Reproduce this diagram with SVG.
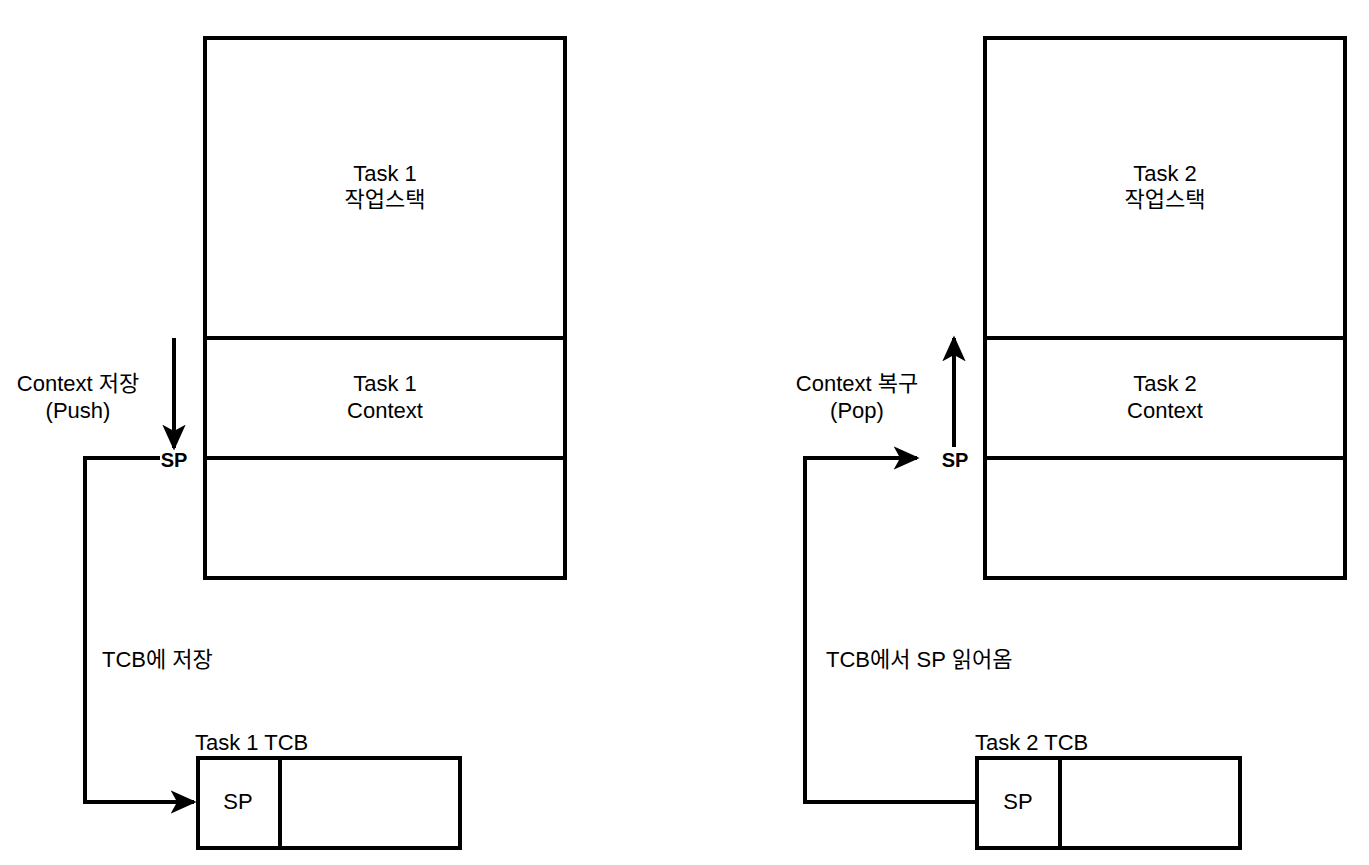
<svg xmlns="http://www.w3.org/2000/svg" width="1369" height="865" viewBox="0 0 1369 865">
<style>
.box{fill:#fff;stroke:#000;stroke-width:4}
.ln{fill:none;stroke:#000;stroke-width:4}
.t{font-family:"Liberation Sans","Noto Sans CJK KR",sans-serif;font-size:22px;fill:#000}
.c{text-anchor:middle}
.b{font-weight:bold;font-size:20px}
</style>
<defs>
<marker id="ah" viewBox="0 0 20 20" refX="18" refY="10" markerWidth="6.5" markerHeight="6.5" markerUnits="strokeWidth" orient="auto">
<path d="M0,1 L20,10 L0,19 L5,10 Z" fill="#000"/>
</marker>
</defs>
<g id="connectors">
<path class="ln" d="M160,458 H85 V802 H194" marker-end="url(#ah)"/>
<path class="ln" d="M174,338 V448" marker-end="url(#ah)"/>
<path class="ln" d="M977,802 H805 V458 H917" marker-end="url(#ah)"/>
<path class="ln" d="M954,447 V338" marker-end="url(#ah)"/>
</g>
<g id="stack1">
<rect class="box" x="205" y="38" width="360" height="300"/>
<rect class="box" x="205" y="338" width="360" height="120"/>
<rect class="box" x="205" y="458" width="360" height="120"/>
<text class="t c" x="385" y="181">Task 1</text>
<text class="t c" x="385" y="207">작업스택</text>
<text class="t c" x="385" y="391">Task 1</text>
<text class="t c" x="385" y="418">Context</text>
</g>
<g id="stack2">
<rect class="box" x="985" y="38" width="360" height="300"/>
<rect class="box" x="985" y="338" width="360" height="120"/>
<rect class="box" x="985" y="458" width="360" height="120"/>
<text class="t c" x="1165" y="181">Task 2</text>
<text class="t c" x="1165" y="207">작업스택</text>
<text class="t c" x="1165" y="391">Task 2</text>
<text class="t c" x="1165" y="418">Context</text>
</g>
<g id="sp1"><text class="t c b" x="174" y="467">SP</text></g>
<g id="sp2"><text class="t c b" x="955" y="467">SP</text></g>
<g id="lbl-push">
<text class="t c" x="78" y="391">Context 저장</text>
<text class="t c" x="78" y="418">(Push)</text>
</g>
<g id="lbl-pop">
<text class="t c" x="857" y="391">Context 복구</text>
<text class="t c" x="857" y="418">(Pop)</text>
</g>
<g id="lbl-save"><text class="t" x="102" y="667">TCB에 저장</text></g>
<g id="lbl-load"><text class="t" x="826" y="667">TCB에서 SP 읽어옴</text></g>
<g id="tcb1">
<text class="t" x="195" y="750">Task 1 TCB</text>
<rect class="box" x="198" y="758" width="262" height="90"/>
<line class="ln" x1="280" y1="758" x2="280" y2="848"/>
<text class="t c" x="238" y="809">SP</text>
</g>
<g id="tcb2">
<text class="t" x="975" y="750">Task 2 TCB</text>
<rect class="box" x="977" y="758" width="263" height="90"/>
<line class="ln" x1="1060" y1="758" x2="1060" y2="848"/>
<text class="t c" x="1018" y="809">SP</text>
</g>
</svg>
